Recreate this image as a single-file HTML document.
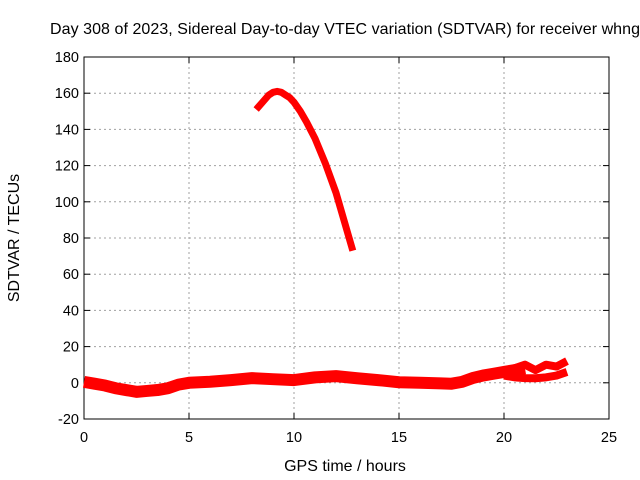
<!DOCTYPE html>
<html><head><meta charset="utf-8"><style>
body{margin:0;background:#fff;}
svg{display:block;font-family:"Liberation Sans",sans-serif;}
</style></head><body>
<svg id="chart" width="640" height="480" viewBox="0 0 640 480"></svg>
<script>
const xTicks=[0,5,10,15,20,25];
const yTicks=[-20,0,20,40,60,80,100,120,140,160,180];
const bandHours=[0,0.5,1,1.5,2,2.5,3,3.5,4,4.5,5,6,7,8,9,10,11,12,13,14,15,16,17,17.5,18,18.5,19,19.5,20,20.5,21];
const bandValues=[0.5,-0.5,-1.5,-3,-4,-5,-4.5,-4,-3,-1,0,0.6,1.5,2.6,2,1.5,3,3.7,2.5,1.5,0.3,0,-0.3,-0.5,0.5,2.6,4,5,6,7,8];
const upperHours=[20,20.5,21,21.5,22,22.5,23];
const upperValues=[6,8,10,7,10,9,12];
const lowerHours=[20,20.5,21,21.5,22,22.5,23];
const lowerValues=[4,3,2.6,2.5,3,4,6];
const peakHours=[8.2,8.5,8.8,9.0,9.2,9.4,9.6,9.8,10,10.3,10.6,11,11.5,12,12.4,12.8];
const peakValues=[151,155,159,160.5,161,160.5,159,157.5,155,150,144,135,121,105,89,73];

const svg=document.getElementById('chart');
const NS='http://www.w3.org/2000/svg';
const L=84,R=609,T=57,B=419;
const xs=h=>L+(h/25)*(R-L);
const ys=v=>B-((v+20)/200)*(B-T);
function mk(tag,attrs){const e=document.createElementNS(NS,tag);for(const k in attrs)e.setAttribute(k,attrs[k]);svg.appendChild(e);return e;}
xTicks.forEach(t=>{if(t>0&&t<25){const g=mk('line',{x1:xs(t),x2:xs(t),y1:T,y2:B,stroke:'#a0a0a0','stroke-dasharray':'2,3'});

}
const tx=mk('text',{x:xs(t),y:B+23,'text-anchor':'middle','font-size':14.5});tx.textContent=t;


mk('line',{x1:xs(t),x2:xs(t),y1:B,y2:B-6,stroke:'#000'});mk('line',{x1:xs(t),x2:xs(t),y1:T,y2:T+6,stroke:'#000'});});
yTicks.forEach(t=>{if(t>-20&&t<180){const g=mk('line',{x1:L,x2:R,y1:ys(t),y2:ys(t),stroke:'#a0a0a0','stroke-dasharray':'2,3'});

}
const tx=mk('text',{x:L-5,y:ys(t)+5,'text-anchor':'end','font-size':14.5});tx.textContent=t;


mk('line',{x1:L,x2:L+6,y1:ys(t),y2:ys(t),stroke:'#000'});mk('line',{x1:R,x2:R-6,y1:ys(t),y2:ys(t),stroke:'#000'});});
const fr=mk('rect',{x:L,y:T,width:R-L,height:B-T,fill:'none',stroke:'#000'});


function series(hs,vs,w,name){const p=mk('polyline',{points:hs.map((h,i)=>xs(h)+','+ys(vs[i])).join(' '),fill:'none',stroke:'#ff0000','stroke-width':w,'stroke-linejoin':'round','stroke-linecap':'butt'});

}
series(bandHours,bandValues,12,'sdtvar-band');
series(upperHours,upperValues,8,'sdtvar-upper-branch');
series(lowerHours,lowerValues,8,'sdtvar-lower-branch');
series(peakHours,peakValues,7,'sdtvar-peak-curve');
const title=mk('text',{x:50,y:34,'text-anchor':'start','font-size':16,textLength:590});title.textContent='Day 308 of 2023, Sidereal Day-to-day VTEC variation (SDTVAR) for receiver whng';


const xt=mk('text',{x:345,y:471,'text-anchor':'middle','font-size':16});xt.textContent='GPS time / hours';


const yt=mk('text',{x:0,y:0,'text-anchor':'middle','font-size':16,transform:'translate(19,238) rotate(-90)'});yt.textContent='SDTVAR / TECUs';


</script>
</body></html>
